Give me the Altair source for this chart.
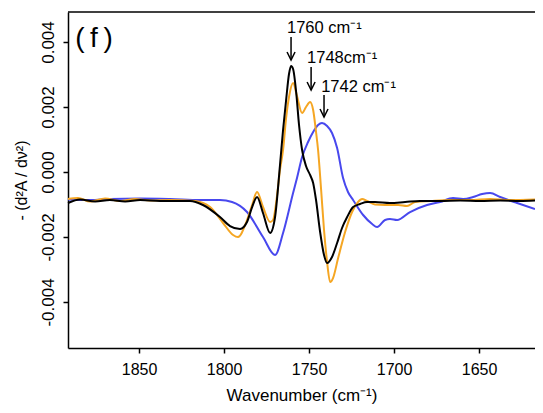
import altair as alt
import pandas as pd

FONT = "Liberation Sans"

# ---- data ----
black_wn = [1891.8, 1884.7, 1875.9, 1867.1, 1858.2, 1849.4, 1837.6, 1820.0, 1812.4, 1802.4,
            1796.5, 1790.6, 1786.5, 1783.5, 1780.6, 1777.1, 1772.9, 1770.0, 1767.1, 1765.3,
            1763.5, 1761.8, 1760.6, 1759.4, 1757.6, 1755.9, 1754.1, 1751.8, 1749.4, 1747.6,
            1745.9, 1743.5, 1741.2, 1739.4, 1736.5, 1733.5, 1730.6, 1727.6, 1724.1, 1720.0,
            1715.9, 1711.2, 1702.4, 1693.5, 1684.7, 1672.9, 1661.2, 1649.4, 1637.6, 1625.9,
            1617.1]
black_val = [-0.954e-3, -0.846e-3, -0.908e-3, -0.862e-3, -0.908e-3, -0.862e-3, -0.892e-3, -0.892e-3, -1.015e-3, -1.385e-3,
             -1.662e-3, -1.754e-3, -1.538e-3, -1.077e-3, -0.769e-3, -1.262e-3, -1.877e-3, -1.385e-3, 0.215e-3, 1.292e-3,
             2.215e-3, 3.015e-3, 3.262e-3, 3.169e-3, 2.462e-3, 1.446e-3, 0.677e-3, 0.185e-3, -0.092e-3, -0.338e-3,
             -0.862e-3, -1.846e-3, -2.554e-3, -2.800e-3, -2.615e-3, -2.185e-3, -1.723e-3, -1.385e-3, -1.077e-3, -0.985e-3,
             -0.923e-3, -0.923e-3, -0.954e-3, -0.923e-3, -0.892e-3, -0.892e-3, -0.877e-3, -0.892e-3, -0.877e-3, -0.892e-3,
             -0.877e-3]

orange_wn = [1891.8, 1885.9, 1878.8, 1870.0, 1861.2, 1852.4, 1843.5, 1831.8, 1817.1, 1808.2,
             1800.6, 1794.7, 1791.8, 1786.5, 1783.5, 1780.6, 1777.1, 1772.9, 1771.2, 1768.8,
             1767.1, 1765.3, 1763.5, 1761.8, 1759.4, 1757.1, 1754.1, 1751.8, 1749.4, 1747.6,
             1745.9, 1744.7, 1742.9, 1741.2, 1739.4, 1737.6, 1735.9, 1732.9, 1728.8, 1724.7,
             1721.2, 1718.8, 1715.9, 1711.2, 1705.3, 1697.6, 1692.4, 1687.6, 1678.8, 1667.1,
             1655.3, 1643.5, 1631.8, 1617.1]
orange_val = [-0.831e-3, -0.800e-3, -0.908e-3, -0.815e-3, -0.892e-3, -0.831e-3, -0.877e-3, -0.862e-3, -0.892e-3, -1.077e-3,
              -1.569e-3, -1.938e-3, -2.000e-3, -1.477e-3, -1.015e-3, -0.615e-3, -1.077e-3, -1.538e-3, -1.477e-3, -0.708e-3,
              0.062e-3, 0.677e-3, 1.662e-3, 2.308e-3, 2.738e-3, 2.338e-3, 1.815e-3, 2.000e-3, 2.154e-3, 1.908e-3,
              1.231e-3, 0.677e-3, -0.554e-3, -1.785e-3, -2.769e-3, -3.385e-3, -3.262e-3, -2.646e-3, -1.846e-3, -1.231e-3,
              -0.923e-3, -0.831e-3, -0.892e-3, -1.000e-3, -1.015e-3, -1.015e-3, -1.046e-3, -0.923e-3, -0.892e-3, -0.862e-3,
              -0.862e-3, -0.831e-3, -0.862e-3, -0.846e-3]

blue_wn = [1891.8, 1878.8, 1867.1, 1849.4, 1831.8, 1814.1, 1802.4, 1795.3, 1786.5, 1777.1,
           1770.0, 1765.3, 1759.4, 1757.1, 1754.1, 1750.6, 1747.6, 1744.7, 1742.4, 1739.4,
           1736.5, 1733.5, 1730.0, 1727.1, 1724.1, 1718.2, 1712.9, 1710.0, 1705.3, 1702.4,
           1698.2, 1690.6, 1680.6, 1672.9, 1665.3, 1659.4, 1653.5, 1648.2, 1643.5, 1637.6,
           1627.6, 1617.1]
blue_val = [-0.846e-3, -0.862e-3, -0.831e-3, -0.815e-3, -0.831e-3, -0.862e-3, -0.862e-3, -0.923e-3, -1.231e-3, -2.000e-3,
            -2.554e-3, -1.877e-3, -0.646e-3, -0.185e-3, 0.462e-3, 0.923e-3, 1.231e-3, 1.446e-3, 1.508e-3, 1.415e-3,
            1.200e-3, 0.738e-3, -0.185e-3, -0.615e-3, -0.862e-3, -1.323e-3, -1.600e-3, -1.692e-3, -1.477e-3, -1.446e-3,
            -1.477e-3, -1.231e-3, -1.015e-3, -0.923e-3, -0.800e-3, -0.831e-3, -0.769e-3, -0.677e-3, -0.646e-3, -0.769e-3,
            -0.954e-3, -1.138e-3]

x_ticks = [1850, 1800, 1750, 1700, 1650]
y_ticks = [-0.004, -0.002, 0.0, 0.002, 0.004]
x_domain = [1617.1, 1891.8]
y_domain = [-0.005415, 0.004923]

# annotations (data coordinates)
ann_text = ["1760 cm\u207b\u00b9", "1748cm\u207b\u00b9", "1742 cm\u207b\u00b9"]
ann_wn = [1763.0, 1751.2, 1742.9]
ann_val = [4.277e-3, 3.354e-3, 2.462e-3]
arrow_wn = [1760.6, 1748.8, 1741.2]
arrow_top = [4.154e-3, 3.231e-3, 2.369e-3]
arrow_tip = [3.446e-3, 2.523e-3, 1.692e-3]
panel_text = ["(\u2009f\u2009)"]
panel_wn = [1887.6]
panel_val = [4.09e-3]

xs = alt.Scale(domain=x_domain, reverse=True, nice=False, zero=False)
ys = alt.Scale(domain=y_domain, nice=False, zero=False)

x_axis = alt.Axis(values=x_ticks, format="d", title="Wavenumber (cm\u207b\u00b9)",
                  grid=False, tickSize=5, tickWidth=1.5, tickColor="black",
                  domainColor="black", domainWidth=1.5,
                  labelFont=FONT, labelFontSize=16, labelColor="black", labelPadding=8,
                  titleFont=FONT, titleFontSize=17, titleFontWeight="normal",
                  titleColor="black", titlePadding=10)
y_axis = alt.Axis(values=y_ticks, title="- (d\u00b2A / d\u03bd\u00b2)",
                  labelExpr="datum.value < 0 ? '-' + format(-datum.value, '.3f') : format(datum.value, '.3f')",
                  grid=False, tickSize=5, tickWidth=1.5, tickColor="black",
                  domainColor="black", domainWidth=1.5,
                  labelFont=FONT, labelFontSize=17, labelColor="black", labelAngle=-90,
                  labelPadding=6,
                  titleFont=FONT, titleFontSize=16, titleFontWeight="normal",
                  titleColor="black", titlePadding=10)


def X(field):
    return alt.X(field, type="quantitative", scale=xs, axis=x_axis)


def Y(field):
    return alt.Y(field, type="quantitative", scale=ys, axis=y_axis)


def series(wn, val, color):
    df = pd.DataFrame({"wn": wn, "val": val})
    return alt.Chart(df).mark_line(strokeWidth=2, color=color, interpolate="monotone").encode(
        x=X("wn"), y=Y("val"))


blue = series(blue_wn, blue_val, "#4848EE")
orange = series(orange_wn, orange_val, "#F5A623")
black = series(black_wn, black_val, "#000000")

top_line = alt.Chart(pd.DataFrame({"val": [y_domain[1]]})).mark_rule(
    color="black", strokeWidth=1.5).encode(y=Y("val"))

ann_df = pd.DataFrame({"wn": ann_wn, "val": ann_val, "label": ann_text})
labels = alt.Chart(ann_df).mark_text(align="left", baseline="alphabetic", font=FONT,
                                     fontSize=16.5, color="black").encode(
    x=X("wn"), y=Y("val"), text="label:N")

arr_df = pd.DataFrame({"wn": arrow_wn, "val": arrow_top, "tip": arrow_tip})
stems = alt.Chart(arr_df).mark_rule(color="black", strokeWidth=1.5).encode(
    x=X("wn"), y=Y("val"), y2="tip:Q")
heads = alt.Chart(arr_df).mark_point(shape="M-1,-2L0,0L1,-2", size=64, filled=False,
                                     strokeWidth=1.5, color="black", opacity=1).encode(
    x=X("wn"), y=Y("tip"))

panel_df = pd.DataFrame({"wn": panel_wn, "val": panel_val, "label": panel_text})
panel = alt.Chart(panel_df).mark_text(align="left", baseline="middle", font=FONT,
                                      fontSize=28, color="black").encode(
    x=X("wn"), y=Y("val"), text="label:N")

chart = alt.layer(blue, orange, black, top_line, stems, heads, labels, panel).properties(
    width=467, height=336,
    autosize=alt.AutoSizeParams(type="none"),
    padding={"left": 60, "top": 4, "right": 0, "bottom": 60},
    background="white",
).configure_view(strokeWidth=0)

chart.save("out.html", embed_options={"renderer": "svg", "actions": False})
